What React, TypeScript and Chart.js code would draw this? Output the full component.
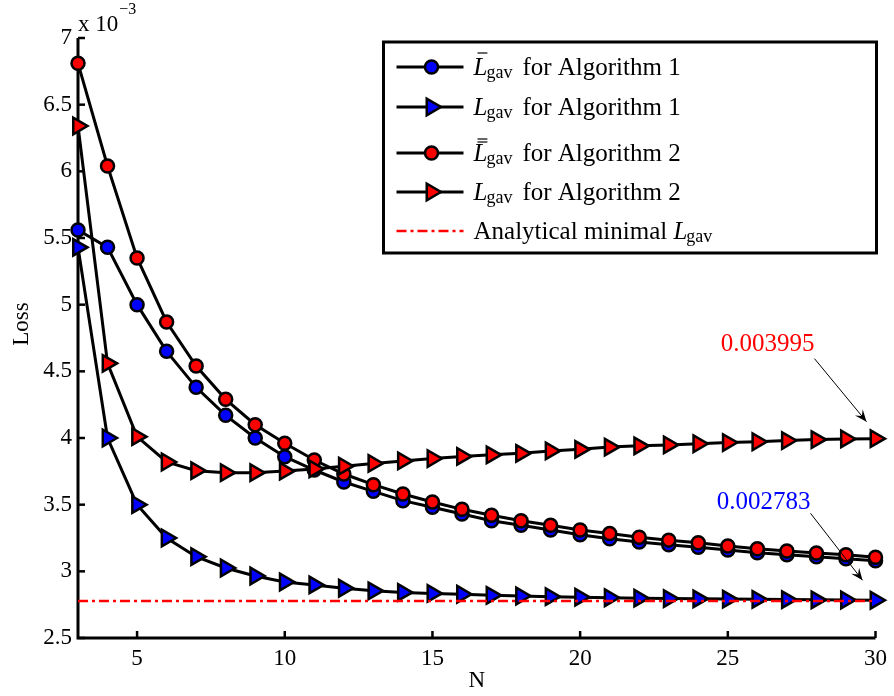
import React, { useEffect, useRef } from "react";
import { Chart, registerables } from "chart.js";

Chart.register(...registerables);

const nValues = [3, 4, 5, 6, 7, 8, 9, 10, 11, 12, 13, 14, 15, 16, 17, 18, 19, 20, 21, 22, 23, 24, 25, 26, 27, 28, 29, 30];
// values in units of 10^-3
const lbarAlg1 = [5.56, 5.43, 5.0, 4.65, 4.38, 4.17, 4.0, 3.86, 3.76, 3.67, 3.6, 3.53, 3.48, 3.43, 3.38, 3.345, 3.31, 3.275, 3.245, 3.22, 3.2, 3.18, 3.16, 3.14, 3.125, 3.11, 3.095, 3.08];
const lAlg1 = [5.43, 4.0, 3.5, 3.25, 3.11, 3.025, 2.965, 2.92, 2.898, 2.873, 2.854, 2.842, 2.834, 2.828, 2.82, 2.815, 2.81, 2.806, 2.802, 2.799, 2.796, 2.794, 2.792, 2.79, 2.788, 2.786, 2.785, 2.783];
const lbarbarAlg2 = [6.81, 6.04, 5.35, 4.87, 4.54, 4.29, 4.1, 3.96, 3.835, 3.73, 3.65, 3.58, 3.52, 3.465, 3.42, 3.38, 3.345, 3.31, 3.283, 3.256, 3.234, 3.215, 3.19, 3.17, 3.152, 3.138, 3.125, 3.105];
const lAlg2 = [6.34, 4.56, 4.01, 3.82, 3.755, 3.74, 3.74, 3.752, 3.768, 3.789, 3.809, 3.828, 3.846, 3.862, 3.874, 3.885, 3.903, 3.915, 3.932, 3.941, 3.948, 3.957, 3.966, 3.972, 3.981, 3.988, 3.993, 3.995];
const analyticalMin = 2.777;

const xTicks = [5, 10, 15, 20, 25, 30];
const yTicks = [2.5, 3, 3.5, 4, 4.5, 5, 5.5, 6, 6.5, 7];

const legendAlgos = ["1", "1", "2", "2"];
const legendBars = [1, 0, 2, 0];
const annotationTexts = ["0.003995", "0.002783"];

const SERIF = '"Liberation Serif", "Times New Roman", serif';
const LEG = 25;
const CIRCLE_R = 6.5;
const TRI_R = 9.5;
const LINE_W = 3;

function pts(ys: number[]) {
  return nValues.map((n, i) => ({ x: n, y: ys[i] }));
}

function drawCircle(ctx: CanvasRenderingContext2D, x: number, y: number, r: number, fill: string) {
  ctx.beginPath();
  ctx.arc(x, y, r, 0, Math.PI * 2);
  ctx.fillStyle = fill;
  ctx.fill();
  ctx.lineWidth = 2.5;
  ctx.strokeStyle = "#000";
  ctx.stroke();
}

function drawTri(ctx: CanvasRenderingContext2D, x: number, y: number, r: number, fill: string) {
  ctx.beginPath();
  for (let k = 0; k < 3; k++) {
    const a = Math.PI / 2 + (k * 2 * Math.PI) / 3;
    const px = x + Math.sin(a) * r;
    const py = y - Math.cos(a) * r;
    if (k === 0) ctx.moveTo(px, py);
    else ctx.lineTo(px, py);
  }
  ctx.closePath();
  ctx.fillStyle = fill;
  ctx.fill();
  ctx.lineWidth = 2.5;
  ctx.strokeStyle = "#000";
  ctx.stroke();
}

function drawLgav(ctx: CanvasRenderingContext2D, x: number, baseline: number, bars: number) {
  ctx.fillStyle = "#000";
  ctx.font = `italic ${LEG}px ${SERIF}`;
  ctx.textAlign = "left";
  ctx.textBaseline = "alphabetic";
  ctx.fillText("L", x, baseline);
  const w = ctx.measureText("L").width;
  ctx.strokeStyle = "#000";
  ctx.lineWidth = 1.2;
  for (let b = 0; b < bars; b++) {
    const by = baseline - 22 + b * 3;
    ctx.beginPath();
    ctx.moveTo(x + 4, by);
    ctx.lineTo(x + w, by);
    ctx.stroke();
  }
  ctx.font = `18px ${SERIF}`;
  ctx.fillText("gav", x + w - 1, baseline + 3);
  const w2 = ctx.measureText("gav").width;
  return w - 1 + w2;
}

function arrow(ctx: CanvasRenderingContext2D, x1: number, y1: number, x2: number, y2: number) {
  ctx.strokeStyle = "#000";
  ctx.lineWidth = 1;
  ctx.beginPath();
  ctx.moveTo(x1, y1);
  ctx.lineTo(x2, y2);
  ctx.stroke();
  const dx = x2 - x1, dy = y2 - y1;
  const len = Math.hypot(dx, dy);
  const ux = dx / len, uy = dy / len;
  const px = -uy, py = ux;
  const L = 12, W = 10;
  ctx.beginPath();
  ctx.moveTo(x2, y2);
  ctx.lineTo(x2 - ux * L + px * W / 2, y2 - uy * L + py * W / 2);
  ctx.lineTo(x2 - ux * L * 0.6, y2 - uy * L * 0.6);
  ctx.lineTo(x2 - ux * L - px * W / 2, y2 - uy * L - py * W / 2);
  ctx.closePath();
  ctx.fillStyle = "#000";
  ctx.fill();
}

const decorPlugin = {
  id: "decor",
  beforeDatasetsDraw(chart: any) {
    const ctx: CanvasRenderingContext2D = chart.ctx;
    const { left, right, top, bottom } = chart.chartArea;
    const xs = chart.scales.x;
    const ys = chart.scales.y;
    ctx.save();
    ctx.strokeStyle = "#000";
    ctx.lineWidth = 3;
    ctx.beginPath();
    ctx.moveTo(left, top);
    ctx.lineTo(left, bottom);
    ctx.lineTo(right, bottom);
    ctx.stroke();
    ctx.lineWidth = 2.5;
    for (const v of xTicks) {
      const px = xs.getPixelForValue(v);
      ctx.beginPath();
      ctx.moveTo(px, bottom);
      ctx.lineTo(px, bottom - 7);
      ctx.stroke();
    }
    for (const v of yTicks) {
      const py = ys.getPixelForValue(v);
      ctx.beginPath();
      ctx.moveTo(left, py);
      ctx.lineTo(left + 7, py);
      ctx.stroke();
    }
    ctx.restore();
  },
  afterDraw(chart: any) {
    const ctx: CanvasRenderingContext2D = chart.ctx;
    const { left, right, top, bottom } = chart.chartArea;
    const xs = chart.scales.x;
    const ys = chart.scales.y;
    ctx.save();

    // axis titles
    ctx.fillStyle = "#000";
    ctx.font = `23px ${SERIF}`;
    ctx.textAlign = "center";
    ctx.textBaseline = "middle";
    ctx.fillText("N", (left + right) / 2, 681);
    ctx.save();
    ctx.translate(22, (top + bottom) / 2 - 14);
    ctx.rotate(-Math.PI / 2);
    ctx.fillText("Loss", 0, 0);
    ctx.restore();

    // multiplier
    ctx.textAlign = "left";
    ctx.textBaseline = "alphabetic";
    ctx.font = `23px ${SERIF}`;
    ctx.fillText("x 10", left, top - 7);
    const mw = ctx.measureText("x 10").width;
    ctx.font = `16px ${SERIF}`;
    ctx.fillText("\u22123", left + mw + 1, top - 24);

    // annotations
    const lastX = nValues[nValues.length - 1];
    const anchors = [
      { y: lAlg2[lAlg2.length - 1], color: "#ff0000" },
      { y: lAlg1[lAlg1.length - 1], color: "#0000ff" },
    ];
    anchors.forEach((a, i) => {
      const px = xs.getPixelForValue(lastX);
      const py = ys.getPixelForValue(a.y);
      const dx = i === 0 ? 0 : -4;
      arrow(ctx, px - 61 + dx, py - 80 + (i === 0 ? 0 : -7), px - 9 + dx, py - 17 + (i === 0 ? 0 : -3));
      ctx.font = `25px ${SERIF}`;
      ctx.fillStyle = a.color;
      ctx.textAlign = "center";
      ctx.textBaseline = "middle";
      ctx.fillText(annotationTexts[i], px - 108 + dx, py - 94 + (i === 0 ? 0 : -4));
    });

    // legend
    const bx2 = right + 1;
    const by1 = top + 4;
    const bx1 = bx2 - 493;
    const by2 = by1 + 211;
    ctx.fillStyle = "#fff";
    ctx.fillRect(bx1, by1, bx2 - bx1, by2 - by1);
    ctx.strokeStyle = "#000";
    ctx.lineWidth = 3;
    ctx.strokeRect(bx1, by1, bx2 - bx1, by2 - by1);
    const rows = [25, 65, 111, 150, 189];
    const sx1 = bx1 + 13, sx2 = bx1 + 80, mx = bx1 + 48, tx = bx1 + 90;
    const fills = ["#0000ff", "#0000ff", "#ff0000", "#ff0000"];
    for (let i = 0; i < 4; i++) {
      const ry = by1 + rows[i];
      ctx.strokeStyle = "#000";
      ctx.lineWidth = LINE_W;
      ctx.setLineDash([]);
      ctx.beginPath();
      ctx.moveTo(sx1, ry);
      ctx.lineTo(sx2, ry);
      ctx.stroke();
      if (i % 2 === 0) drawCircle(ctx, mx, ry, CIRCLE_R, fills[i]);
      else drawTri(ctx, mx, ry, TRI_R, fills[i]);
      const base = ry + 8;
      const w = drawLgav(ctx, tx, base, legendBars[i]);
      ctx.font = `${LEG}px ${SERIF}`;
      ctx.fillStyle = "#000";
      ctx.textAlign = "left";
      ctx.fillText("for Algorithm " + legendAlgos[i], tx + w + 10, base);
    }
    {
      const ry = by1 + rows[4];
      ctx.strokeStyle = "#ff0000";
      ctx.lineWidth = 2.5;
      ctx.setLineDash([10, 4, 3, 4]);
      ctx.beginPath();
      ctx.moveTo(sx1, ry);
      ctx.lineTo(sx2, ry);
      ctx.stroke();
      ctx.setLineDash([]);
      const base = ry + 8;
      ctx.font = `${LEG}px ${SERIF}`;
      ctx.fillStyle = "#000";
      ctx.textAlign = "left";
      ctx.fillText("Analytical minimal ", tx, base);
      const w = ctx.measureText("Analytical minimal ").width;
      drawLgav(ctx, tx + w, base, 0);
    }
    ctx.restore();
  },
};

export default function App() {
  const ref = useRef<HTMLCanvasElement | null>(null);
  useEffect(() => {
    if (!ref.current) return;
    Chart.defaults.font.family = SERIF;
    const common = {
      borderColor: "#000",
      borderWidth: LINE_W,
      pointBorderColor: "#000",
      pointBorderWidth: 2.5,
      clip: false as any,
      tension: 0,
    };
    const chart = new Chart(ref.current, {
      type: "line",
      data: {
        datasets: [
          { ...common, label: "lbar1", data: pts(lbarAlg1), pointStyle: "circle", pointRadius: CIRCLE_R, pointBackgroundColor: "#0000ff", order: 5 },
          { ...common, label: "l1", data: pts(lAlg1), pointStyle: "triangle", pointRotation: 90, pointRadius: TRI_R, pointBackgroundColor: "#0000ff", order: 4 },
          { ...common, label: "lbarbar2", data: pts(lbarbarAlg2), pointStyle: "circle", pointRadius: CIRCLE_R, pointBackgroundColor: "#ff0000", order: 3 },
          { ...common, label: "l2", data: pts(lAlg2), pointStyle: "triangle", pointRotation: 90, pointRadius: TRI_R, pointBackgroundColor: "#ff0000", order: 2 },
          {
            label: "min",
            data: [
              { x: nValues[0], y: analyticalMin },
              { x: nValues[nValues.length - 1], y: analyticalMin },
            ],
            borderColor: "#ff0000",
            borderWidth: 2.5,
            borderDash: [10, 4, 3, 4],
            pointRadius: 0,
            clip: false as any,
            order: 1,
          },
        ] as any,
      },
      options: {
        responsive: false,
        animation: false,
        devicePixelRatio: 1,
        layout: { padding: { top: 38, right: 15, left: 0, bottom: 0 } },
        plugins: { legend: { display: false }, tooltip: { enabled: false } },
        scales: {
          x: {
            type: "linear",
            min: nValues[0],
            max: nValues[nValues.length - 1],
            grid: { display: false, drawTicks: false },
            border: { display: false },
            afterBuildTicks: (s: any) => {
              s.ticks = xTicks.map((v) => ({ value: v }));
            },
            afterFit: (s: any) => {
              s.height = 58;
            },
            ticks: { color: "#000", font: { size: 23, family: SERIF }, padding: 7, maxRotation: 0, autoSkip: false, callback: (v: any) => String(v) },
          },
          y: {
            type: "linear",
            min: yTicks[0],
            max: yTicks[yTicks.length - 1],
            grid: { display: false, drawTicks: false },
            border: { display: false },
            afterBuildTicks: (s: any) => {
              s.ticks = yTicks.map((v) => ({ value: v }));
            },
            afterFit: (s: any) => {
              s.width = 78;
            },
            ticks: { color: "#000", font: { size: 23, family: SERIF }, padding: 6, autoSkip: false, callback: (v: any) => String(v) },
          },
        },
      } as any,
      plugins: [decorPlugin],
    });
    return () => chart.destroy();
  }, []);
  return (
    <div style={{ position: "absolute", left: 0, top: 0, width: 894, height: 696, background: "#fff" }}>
      <canvas ref={ref} width={894} height={696} style={{ width: 894, height: 696, display: "block" }} />
    </div>
  );
}
